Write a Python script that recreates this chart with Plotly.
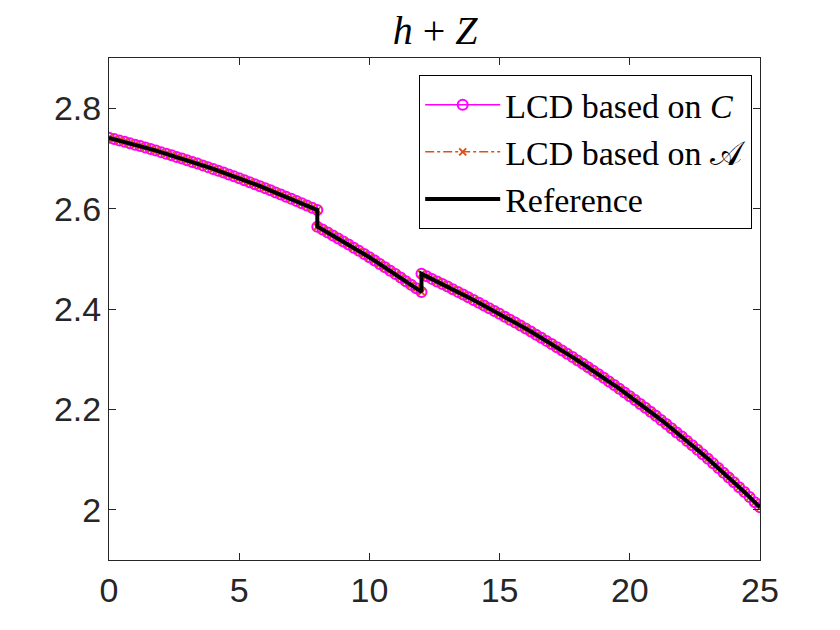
import plotly.graph_objects as go

# ---- data ----
x_seg1 = [0.0, 0.2, 0.4, 0.6, 0.8, 1.0, 1.2, 1.4, 1.6, 1.8, 2.0, 2.2, 2.4, 2.6, 2.8,
          3.0, 3.2, 3.4, 3.6, 3.8, 4.0, 4.2, 4.4, 4.6, 4.8, 5.0, 5.2, 5.4, 5.6, 5.8,
          6.0, 6.2, 6.4, 6.6, 6.8, 7.0, 7.2, 7.4, 7.6, 7.8, 8.0]
y_seg1 = [2.7410, 2.7384, 2.7357, 2.7330, 2.7302, 2.7274, 2.7245, 2.7216, 2.7186, 2.7156,
          2.7125, 2.7094, 2.7062, 2.7030, 2.6997, 2.6964, 2.6930, 2.6896, 2.6861, 2.6826,
          2.6790, 2.6754, 2.6717, 2.6680, 2.6642, 2.6604, 2.6565, 2.6526, 2.6486, 2.6446,
          2.6405, 2.6364, 2.6322, 2.6280, 2.6237, 2.6194, 2.6150, 2.6106, 2.6061, 2.6016,
          2.5970]

x_seg2 = [8.0, 8.2, 8.4, 8.6, 8.8, 9.0, 9.2, 9.4, 9.6, 9.8, 10.0, 10.2, 10.4, 10.6,
          10.8, 11.0, 11.2, 11.4, 11.6, 11.8, 12.0]
y_seg2 = [2.5640, 2.5583, 2.5524, 2.5465, 2.5406, 2.5345, 2.5284, 2.5221, 2.5158, 2.5095,
          2.5030, 2.4965, 2.4898, 2.4831, 2.4764, 2.4695, 2.4626, 2.4555, 2.4484, 2.4413,
          2.4340]

x_seg3 = [12.0, 12.2, 12.4, 12.6, 12.8, 13.0, 13.2, 13.4, 13.6, 13.8, 14.0, 14.2, 14.4,
          14.6, 14.8, 15.0, 15.2, 15.4, 15.6, 15.8, 16.0, 16.2, 16.4, 16.6, 16.8, 17.0,
          17.2, 17.4, 17.6, 17.8, 18.0, 18.2, 18.4, 18.6, 18.8, 19.0, 19.2, 19.4, 19.6,
          19.8, 20.0, 20.2, 20.4, 20.6, 20.8, 21.0, 21.2, 21.4, 21.6, 21.8, 22.0, 22.2,
          22.4, 22.6, 22.8, 23.0, 23.2, 23.4, 23.6, 23.8, 24.0, 24.2, 24.4, 24.6, 24.8,
          25.0]
y_seg3 = [2.4700, 2.4650, 2.4600, 2.4549, 2.4498, 2.4446, 2.4394, 2.4341, 2.4288, 2.4235,
          2.4181, 2.4126, 2.4071, 2.4016, 2.3960, 2.3903, 2.3846, 2.3788, 2.3729, 2.3670,
          2.3610, 2.3550, 2.3489, 2.3427, 2.3365, 2.3302, 2.3238, 2.3173, 2.3108, 2.3042,
          2.2975, 2.2908, 2.2839, 2.2770, 2.2700, 2.2629, 2.2558, 2.2485, 2.2412, 2.2337,
          2.2262, 2.2186, 2.2109, 2.2031, 2.1952, 2.1872, 2.1791, 2.1709, 2.1626, 2.1542,
          2.1458, 2.1372, 2.1284, 2.1196, 2.1107, 2.1017, 2.0925, 2.0833, 2.0739, 2.0644,
          2.0548, 2.0451, 2.0353, 2.0253, 2.0152, 2.0050]

x_vals = x_seg1 + x_seg2 + x_seg3
y_lcd_C = y_seg1 + y_seg2 + y_seg3
y_lcd_A = y_seg1 + y_seg2 + y_seg3
y_ref = y_seg1 + y_seg2 + y_seg3

x_ticks = [0, 5, 10, 15, 20, 25]
y_ticks = [2, 2.2, 2.4, 2.6, 2.8]
y_tick_labels = ["2", "2.2", "2.4", "2.6", "2.8"]

series_names = ["LCD based on <i>C</i>", "LCD based on \U0001D49C", "Reference"]

fig = go.Figure()
fig.add_trace(go.Scatter(
    x=x_vals, y=y_lcd_C, mode="lines+markers", name=series_names[0],
    line=dict(color="#FF00FF", width=1.5),
    marker=dict(symbol="circle-open", size=10, color="#FF00FF", line=dict(width=2, color="#FF00FF")),
))
fig.add_trace(go.Scatter(
    x=x_vals, y=y_lcd_A, mode="lines+markers", name=series_names[1],
    line=dict(color="#D95319", width=1.5, dash="dashdot"),
    marker=dict(symbol="x-thin", size=7, color="#D95319", line=dict(width=2, color="#D95319")),
))
fig.add_trace(go.Scatter(
    x=x_vals, y=y_ref, mode="lines", name=series_names[2],
    line=dict(color="black", width=4),
))

axis_common = dict(
    showline=True, linecolor="#262626", linewidth=1, mirror="ticks",
    ticks="inside", ticklen=7, tickcolor="#262626", tickwidth=1,
    showgrid=False, zeroline=False,
    tickfont=dict(family="Liberation Sans, Arial, sans-serif", size=34, color="#262626"),
)

fig.update_layout(
    width=840, height=630,
    margin=dict(l=109, r=80, t=58, b=70),
    paper_bgcolor="white", plot_bgcolor="white",
    title=dict(text="<i>h</i> + <i>Z</i>", x=0.518, xanchor="center", y=0.952, yanchor="middle",
               font=dict(family="Liberation Serif, Times New Roman, serif", size=40, color="black")),
    xaxis=dict(range=[0, 25], tickvals=x_ticks, ticktext=[str(v) for v in x_ticks], **axis_common),
    yaxis=dict(range=[1.9, 2.9], tickvals=y_ticks, ticktext=y_tick_labels, **axis_common),
    legend=dict(x=0.988, y=0.966, xanchor="right", yanchor="top",
                bgcolor="white", bordercolor="black", borderwidth=1,
                font=dict(family="Liberation Serif, Times New Roman, serif", size=34, color="black"),
                itemwidth=75, tracegroupgap=0),
    showlegend=True,
)

fig.write_html("out.html")
